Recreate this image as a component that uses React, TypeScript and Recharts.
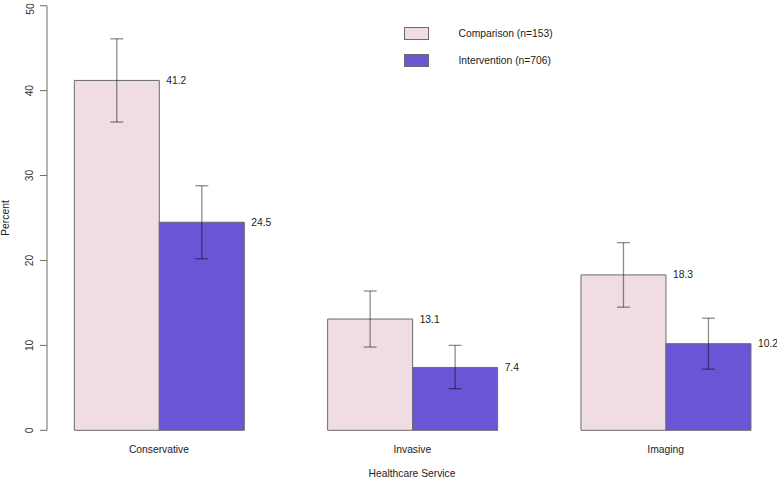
import { Bar, BarChart, ErrorBar, LabelList, Legend, XAxis, YAxis } from 'recharts'

const categories = ['Conservative', 'Invasive', 'Imaging']
const comparison = [41.2, 13.1, 18.3]
const intervention = [24.5, 7.4, 10.2]
const comparisonLow = [36.3, 9.8, 14.5]
const comparisonHigh = [46.1, 16.4, 22.1]
const interventionLow = [20.2, 4.9, 7.2]
const interventionHigh = [28.8, 10.0, 13.2]
const yTicks = [0, 10, 20, 30, 40, 50]

const FONT = '"Liberation Sans", Arial, Helvetica, sans-serif'
const PINK = '#F0DDE3'
const PURPLE = '#6A55D6'
const EDGE = '#6b6b6b'

const data = categories.map((name, i) => ({
    name,
    comparison: comparison[i],
    intervention: intervention[i],
    comparisonErr: [comparison[i] - comparisonLow[i], comparisonHigh[i] - comparison[i]],
    interventionErr: [intervention[i] - interventionLow[i], interventionHigh[i] - intervention[i]],
}))

const YTick = ({ y, payload }: any) => (
    <text
        x={30}
        y={y}
        transform={`rotate(-90 30 ${y})`}
        textAnchor="middle"
        dominantBaseline="central"
        fontSize={10.3}
        fontFamily={FONT}
        fill="#333"
    >
        {payload.value}
    </text>
)

const XTick = ({ x, payload }: any) => (
    <text x={x} y={449} textAnchor="middle" dominantBaseline="central" fontSize={10.3} fontFamily={FONT} fill="#222">
        {payload.value}
    </text>
)

const ValueLabel = ({ x, y, width, value }: any) => (
    <text
        x={Number(x) + Number(width) + 7}
        y={Number(y)}
        dominantBaseline="central"
        fontSize={10.3}
        fontFamily={FONT}
        fill="#222"
    >
        {value}
    </text>
)

const LegendBox = ({ payload }: any) => (
    <div style={{ fontFamily: FONT, fontSize: 10.3, color: '#222' }}>
        {(payload || []).map((p: any, i: number) => (
            <div key={p.value} style={{ display: 'flex', alignItems: 'center', height: 13.3, marginBottom: i === 0 ? 14 : 0 }}>
                <div
                    style={{
                        width: 25,
                        height: 13.3,
                        boxSizing: 'border-box',
                        background: p.color,
                        border: `1px solid ${EDGE}`,
                    }}
                />
                <span style={{ marginLeft: 29.5, whiteSpace: 'nowrap' }}>{p.value}</span>
            </div>
        ))}
    </div>
)

export default function App() {
    return (
        <div style={{ position: 'absolute', left: 0, top: 0, background: '#fff' }}>
            <BarChart
                width={777}
                height={478}
                data={data}
                margin={{ top: 5.7, right: 0, left: 0, bottom: 0 }}
                barCategoryGap={42}
                barGap={0}
            >
                <XAxis
                    dataKey="name"
                    axisLine={false}
                    tickLine={false}
                    height={47.7}
                    padding={{ left: -14.7, right: -15.3 }}
                    tick={<XTick />}
                    label={() => (
                        <text x={412} y={473} textAnchor="middle" dominantBaseline="central" fontSize={10.3} fontFamily={FONT} fill="#222">
                            Healthcare Service
                        </text>
                    )}
                />
                <YAxis
                    width={47}
                    domain={[0, 50]}
                    ticks={yTicks}
                    tickSize={7}
                    axisLine={{ stroke: EDGE }}
                    tickLine={{ stroke: EDGE }}
                    tick={<YTick />}
                    label={() => (
                        <text
                            x={5.5}
                            y={218}
                            transform="rotate(-90 5.5 218)"
                            textAnchor="middle"
                            dominantBaseline="central"
                            fontSize={10.3}
                            fontFamily={FONT}
                            fill="#222"
                        >
                            Percent
                        </text>
                    )}
                />
                <Legend
                    layout="horizontal"
                    verticalAlign="middle"
                    align="center"
                    content={<LegendBox />}
                    wrapperStyle={{ position: 'absolute', left: 404, top: 26.7, width: 220 }}
                />
                <Bar
                    dataKey="comparison"
                    name="Comparison (n=153)"
                    fill={PINK}
                    stroke={EDGE}
                    strokeWidth={1}
                    isAnimationActive={false}
                >
                    <ErrorBar dataKey="comparisonErr" width={6.5} stroke="#000" strokeOpacity={0.45} strokeWidth={1.3} />
                    <LabelList dataKey="comparison" content={<ValueLabel />} />
                </Bar>
                <Bar
                    dataKey="intervention"
                    name="Intervention (n=706)"
                    fill={PURPLE}
                    stroke={EDGE}
                    strokeWidth={1}
                    isAnimationActive={false}
                >
                    <ErrorBar dataKey="interventionErr" width={6.5} stroke="#000" strokeOpacity={0.45} strokeWidth={1.3} />
                    <LabelList dataKey="intervention" content={<ValueLabel />} />
                </Bar>
            </BarChart>
        </div>
    )
}
